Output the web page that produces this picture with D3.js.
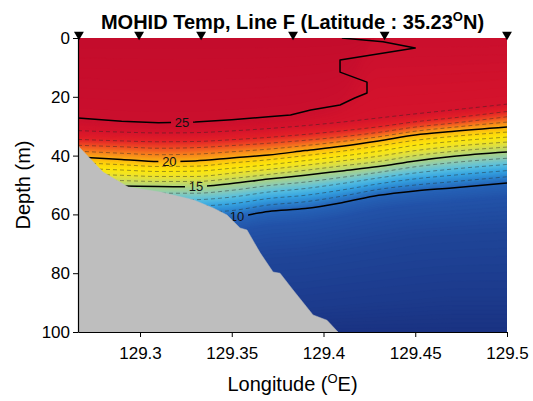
<!DOCTYPE html>
<html><head><meta charset="utf-8">
<script src="https://cdn.jsdelivr.net/npm/d3@7"></script>
<style>
body{margin:0;background:#fff}
svg{display:block}
text{font-family:"Liberation Sans",Arial,Helvetica,sans-serif}
</style>
</head><body>
<svg id="chart" width="533" height="401"></svg>
<script>
// ---------------- data ----------------
const title = "MOHID Temp, Line F (Latitude : 35.23";
const xTicks = [129.3, 129.35, 129.4, 129.45, 129.5];
const yTicks = [0, 20, 40, 60, 80, 100];
const stationLon = [129.2667, 129.2995, 129.3333, 129.3834, 129.4333, 129.5];

// longitude columns at which isotherm depths (m) were read
const cols = [129.2662, 129.29, 129.31, 129.33, 129.35, 129.37, 129.39, 129.41, 129.43, 129.45, 129.47, 129.5];
const d25 = [27.2, 28.3, 28.8, 28.6, 27.8, 26.8, 25.0, 20.0, 0, 0, 0, 0];
const d24 = [31.5, 32.0, 32.3, 32.2, 31.6, 30.8, 29.8, 28.6, 27.2, 25.8, 24.5, 22.5];
const d23 = [34.5, 35.0, 35.3, 35.2, 34.6, 33.8, 32.8, 31.6, 30.2, 28.5, 27.2, 25.0];
const d22 = [36.5, 37.0, 37.5, 37.3, 36.6, 35.8, 34.8, 33.6, 32.1, 30.3, 29.0, 26.8];
const d21 = [38.5, 39.2, 39.7, 39.5, 38.7, 37.8, 36.6, 35.2, 33.6, 31.7, 30.4, 28.6];
const d20 = [40.5, 41.3, 42.0, 41.8, 40.8, 39.8, 38.3, 36.8, 35.0, 33.0, 31.8, 30.3];
const d19 = [42.4, 43.1, 43.7, 43.6, 42.5, 41.4, 40.0, 38.5, 36.7, 34.8, 33.5, 32.0];
const d18 = [44.3, 44.9, 45.4, 45.3, 44.3, 43.1, 41.7, 40.2, 38.5, 36.5, 35.2, 33.7];
const d17 = [46.2, 46.7, 47.1, 47.1, 46.0, 44.7, 43.3, 41.8, 40.2, 38.3, 36.9, 35.4];
const d16 = [48.1, 48.5, 48.8, 48.8, 47.8, 46.4, 45.0, 43.5, 42.0, 40.0, 38.6, 37.1];
const d15 = [50.0, 50.3, 50.5, 50.6, 49.5, 48.0, 46.7, 45.2, 43.7, 41.8, 40.3, 38.8];
const d14 = [52.4, 52.6, 52.8, 52.8, 51.8, 50.2, 49.0, 47.4, 45.7, 43.8, 42.4, 40.9];
const d13 = [54.8, 55.0, 55.1, 55.0, 54.1, 52.4, 51.2, 49.5, 47.6, 45.9, 44.6, 43.0];
const d12 = [57.2, 57.3, 57.4, 57.2, 56.4, 54.6, 53.5, 51.7, 49.6, 47.9, 46.7, 45.1];
const d11 = [59.6, 59.7, 59.7, 59.3, 58.7, 56.8, 55.7, 53.8, 51.5, 50.0, 48.9, 47.2];
const d10 = [62.0, 62.0, 62.0, 61.5, 61.0, 59.0, 58.0, 56.0, 53.5, 52.0, 51.0, 49.3];
const d9  = [67.0, 67.0, 67.0, 66.5, 66.0, 64.0, 63.0, 61.0, 58.5, 57.0, 56.0, 54.5];
const d8  = [78.0, 78.0, 78.0, 78.0, 77.0, 75.0, 74.0, 72.0, 70.0, 68.0, 67.0, 66.0];
const d7  = [95.0, 95.0, 95.0, 95.0, 95.0, 93.0, 92.0, 91.0, 90.0, 89.0, 88.0, 88.0];
const surfaceT = 26.0, bottomT = 6.5;

// the 25 degC contour traced separately (it folds back near the surface)
const c25Lon = [129.2662, 129.29, 129.31, 129.33, 129.35, 129.37, 129.382, 129.393, 129.409, 129.417, 129.4237, 129.4237, 129.409, 129.409, 129.45, 129.4324, 129.41];
const c25Dep = [27.2, 28.3, 28.8, 28.6, 27.8, 26.8, 26.2, 24.5, 22.8, 20.4, 18.7, 15.0, 11.6, 7.5, 3.4, 1.3, 0];

// bathymetry (sea floor)
const bottomLon = [129.2662, 129.2673, 129.2798, 129.2935, 129.3109, 129.3289, 129.3398, 129.3474, 129.3545, 129.3583, 129.3654, 129.3725, 129.3763, 129.3834, 129.3943, 129.4019, 129.4079];
const bottomDep = [36.5, 37.4, 45.6, 50.7, 52.4, 55.0, 57.8, 60.2, 64.6, 65.3, 73.0, 79.6, 80.0, 85.7, 94.2, 96.0, 100];

// contour labels
const labelText = ["25", "20", "15", "10"];
const labelLon  = [129.3229, 129.3160, 129.3305, 129.3529];

// colour map (temperature -> colour)
const cmT = [6.5, 7, 8, 9, 10, 11, 12, 13, 14, 15, 16, 17, 18, 19, 20, 21, 22, 23, 24, 25, 26];
const cmC = ['#1a3282','#1c3a8c','#1f4598','#2252a8','#2664b8','#2c86d0','#38a6e2','#5ac0de','#8ccbb4','#b0d47e','#d2dd52','#eee32a','#fde60e','#fed30c','#fbae15','#f67e1e','#ee4a24','#e32228','#d5132c','#ca0f2d','#c40c2c'];

// ---------------- drawing ----------------
const svg = d3.select("#chart");
const L = 78, R = 507, T = 38, B = 332;
const x = d3.scaleLinear().domain([129.2662, 129.5]).range([L, R]);
const y = d3.scaleLinear().domain([0, 100]).range([T, B]);
const cmap = d3.scaleLinear().domain(cmT).range(cmC).interpolate(d3.interpolateRgb).clamp(true);

const defs = svg.append("defs");
defs.append("clipPath").attr("id", "plotclip")
  .append("rect").attr("x", L).attr("y", T).attr("width", R - L).attr("height", B - T);

const plot = svg.append("g").attr("clip-path", "url(#plotclip)");

// layers top -> bottom
const zeros = cols.map(() => 0), hundreds = cols.map(() => 100);
const layers = [
  {t: surfaceT, d: zeros}, {t: 25, d: d25}, {t: 24, d: d24}, {t: 23, d: d23}, {t: 22, d: d22},
  {t: 21, d: d21}, {t: 20, d: d20}, {t: 19, d: d19}, {t: 18, d: d18}, {t: 17, d: d17},
  {t: 16, d: d16}, {t: 15, d: d15}, {t: 14, d: d14}, {t: 13, d: d13}, {t: 12, d: d12},
  {t: 11, d: d11}, {t: 10, d: d10}, {t: 9, d: d9}, {t: 8, d: d8}, {t: 7, d: d7},
  {t: bottomT, d: hundreds}
];

const area = d3.area().curve(d3.curveMonotoneX)
  .x((d, i) => x(cols[i])).y0(d => y(d)).y1(y(100));
const NS = 8;
for (let k = 0; k < layers.length - 1; k++) {
  const a = layers[k], b = layers[k + 1];
  for (let s = 0; s < NS; s++) {
    const f = s / NS;
    const top = a.d.map((v, i) => v + (b.d[i] - v) * f);
    const tm = a.t + (b.t - a.t) * (s + 0.5) / NS;
    plot.append("path").attr("d", area(top)).attr("fill", cmap(tm)).attr("stroke", cmap(tm)).attr("stroke-width", 0.6);
  }
}

// label mask (gaps in bold contours)
function interpAt(arr, lon) {
  return d3.scaleLinear().domain(cols).range(arr)(lon);
}
const labelDep = [interpAt(d25, labelLon[0]), interpAt(d20, labelLon[1]), interpAt(d15, labelLon[2]), interpAt(d10, labelLon[3])];
const mask = defs.append("mask").attr("id", "lblmask").attr("maskUnits", "userSpaceOnUse")
  .attr("x", 0).attr("y", 0).attr("width", 533).attr("height", 401);
mask.append("rect").attr("x", 0).attr("y", 0).attr("width", 533).attr("height", 401).attr("fill", "white");
labelText.forEach((t, i) => {
  mask.append("rect").attr("x", x(labelLon[i]) - 11).attr("y", y(labelDep[i]) - 7)
    .attr("width", 22).attr("height", 14).attr("fill", "black");
});

// thin dashed isotherms
const line = d3.line().curve(d3.curveMonotoneX).x((d, i) => x(cols[i])).y(d => y(d));
[d24, d23, d22, d21, d19, d18, d17, d16, d14, d13, d12, d11].forEach(arr => {
  plot.append("path").attr("d", line(arr)).attr("fill", "none")
    .attr("stroke", "#222").attr("stroke-opacity", 0.55).attr("stroke-width", 0.8)
    .attr("stroke-dasharray", "4,3");
});

// bold isotherms
const bold = plot.append("g").attr("mask", "url(#lblmask)");
[d20, d15, d10].forEach(arr => {
  bold.append("path").attr("d", line(arr)).attr("fill", "none")
    .attr("stroke", "#000").attr("stroke-width", 1.5);
});
const line25 = d3.line().x((d, i) => x(c25Lon[i])).y(d => y(d));
bold.append("path").attr("d", line25(c25Dep)).attr("fill", "none")
  .attr("stroke", "#000").attr("stroke-width", 1.5).attr("stroke-linejoin", "round");

// contour labels
labelText.forEach((t, i) => {
  plot.append("text").attr("x", x(labelLon[i])).attr("y", y(labelDep[i]))
    .attr("dy", "0.36em").attr("text-anchor", "middle")
    .attr("font-size", 13).attr("fill", "#111").text(t);
});

// land
const landPts = bottomLon.map((lo, i) => [lo, bottomDep[i]]);
landPts.push([bottomLon[bottomLon.length - 1], 100], [129.2662, 100]);
plot.append("path")
  .attr("d", d3.line().x(d => x(d[0])).y(d => y(d[1])).curve(d3.curveLinearClosed)(landPts))
  .attr("fill", "#bebebe").attr("stroke", "#bebebe").attr("stroke-width", 0.5);

// axes
const xAxis = d3.axisBottom(x).tickValues(xTicks).tickSize(5).tickSizeOuter(0).tickPadding(10)
  .tickFormat(d => String(+d.toFixed(2)));
const gx = svg.append("g").attr("transform", `translate(0,${B})`).call(xAxis);
gx.selectAll("text").attr("font-size", 17).attr("fill", "#000").style("font-family", '"Liberation Sans",Arial,sans-serif');
gx.select(".domain").attr("stroke", "#000").attr("stroke-width", 1.2);
gx.selectAll(".tick line").attr("stroke", "#000");

const yAxis = d3.axisLeft(y).tickValues(yTicks).tickSize(5).tickSizeOuter(0).tickPadding(3);
const gy = svg.append("g").attr("transform", `translate(${L},0)`).call(yAxis);
gy.selectAll("text").attr("font-size", 17).attr("fill", "#000").style("font-family", '"Liberation Sans",Arial,sans-serif');
gy.select(".domain").attr("stroke", "#000").attr("stroke-width", 1.2);
gy.selectAll(".tick line").attr("stroke", "#000");

// station markers
const tri = d3.symbol().type(d3.symbolTriangle).size(42);
svg.append("g").selectAll("path").data(stationLon).join("path")
  .attr("d", tri())
  .attr("transform", d => `translate(${x(d)},${T - 3.5}) rotate(180)`)
  .attr("fill", "#000");

// title
const tt = svg.append("text").attr("x", (L + R) / 2).attr("y", 29).attr("text-anchor", "middle")
  .attr("font-size", 20).attr("font-weight", "bold").attr("fill", "#000");
tt.append("tspan").text(title);
tt.append("tspan").attr("font-size", 13).attr("dy", -8).text("O");
tt.append("tspan").attr("dy", 8).text("N)");

// axis labels
const xl = svg.append("text").attr("x", (L + R) / 2).attr("y", 391).attr("text-anchor", "middle")
  .attr("font-size", 20).attr("fill", "#000");
xl.append("tspan").text("Longitude (");
xl.append("tspan").attr("font-size", 13).attr("dy", -8).text("O");
xl.append("tspan").attr("dy", 8).text("E)");

svg.append("text").attr("transform", `translate(30,${(T + B) / 2}) rotate(-90)`)
  .attr("text-anchor", "middle").attr("font-size", 20).attr("fill", "#000").text("Depth (m)");
</script>
</body></html>
